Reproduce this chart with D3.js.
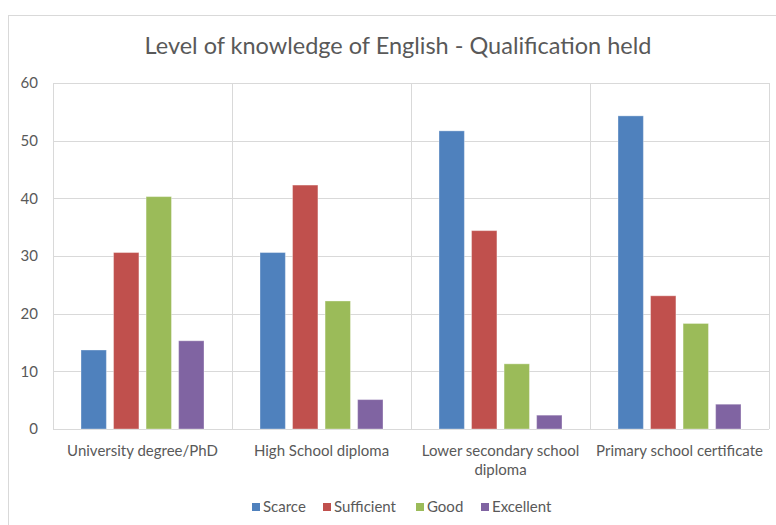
<!DOCTYPE html>
<html>
<head>
<meta charset="utf-8">
<script src="https://cdn.jsdelivr.net/npm/d3@7"></script>
<style>
  body { margin: 0; background: #fff; }
  svg { display: block; font-family: Lato, "Open Sans", sans-serif; }
</style>
</head>
<body>
<svg id="chart" width="776" height="525"></svg>
<script>
// data
var categories = ["University degree/PhD", "High School diploma", "Lower secondary school diploma", "Primary school certificate"];
var series = ["Scarce", "Sufficient", "Good", "Excellent"];
var scarce = [13.7, 30.6, 51.7, 54.3];
var sufficient = [30.6, 42.3, 34.4, 23.1];
var good = [40.3, 22.2, 11.3, 18.3];
var excellent = [15.3, 5.1, 2.4, 4.3];
var colors = ["#4F81BD", "#C0504D", "#9BBB59", "#8064A2"];
var yTicks = [0, 10, 20, 30, 40, 50, 60];

var values = [scarce, sufficient, good, excellent];
var rows = categories.map(function(c, i) {
  return { cat: c, vals: series.map(function(s, j) { return { key: s, value: values[j][i] }; }) };
});

var svg = d3.select("#chart");
var margin = { top: 83, left: 53, right: 7, bottom: 96 };
var width = 776 - margin.left - margin.right,
    height = 525 - margin.top - margin.bottom;

// chart frame (cropped on the right and bottom like the screenshot)
svg.append("rect")
  .attr("x", 8.5).attr("y", 15.5)
  .attr("width", 790).attr("height", 540)
  .attr("fill", "#fff")
  .attr("stroke", "#D9D9D9");

svg.append("text")
  .attr("x", 398).attr("y", 54)
  .attr("text-anchor", "middle")
  .attr("font-size", 23.5)
  .attr("fill", "#595959")
  .text("Level of knowledge of English - Qualification held");

var g = svg.append("g").attr("transform", "translate(" + margin.left + "," + margin.top + ")");

var x0 = d3.scaleBand().domain(categories).range([0, width]).padding(0);
var bw = x0.bandwidth();
var x1 = d3.scaleBand().domain(series).range([28, bw - 28]).paddingInner(0.22);
var y = d3.scaleLinear().domain([0, 60]).range([height, 0]);
var color = d3.scaleOrdinal().domain(series).range(colors);

// horizontal gridlines
g.append("g")
  .selectAll("line")
  .data(yTicks)
  .enter().append("line")
  .attr("x1", 0).attr("x2", width)
  .attr("y1", function(d) { return Math.round(y(d)) + 0.5; })
  .attr("y2", function(d) { return Math.round(y(d)) + 0.5; })
  .attr("stroke", "#D9D9D9");

// vertical category separators
g.append("g")
  .selectAll("line")
  .data(categories.concat(["end"]))
  .enter().append("line")
  .attr("x1", function(d, i) { return Math.round(i * bw) + 0.5; })
  .attr("x2", function(d, i) { return Math.round(i * bw) + 0.5; })
  .attr("y1", 0).attr("y2", height)
  .attr("stroke", "#D9D9D9");

// y axis labels
var yAxis = d3.axisLeft(y).tickValues(yTicks).tickSize(0).tickPadding(15);
g.append("g")
  .call(yAxis)
  .call(function(a) {
    a.select(".domain").remove();
    a.selectAll("text")
      .attr("font-size", 15)
      .attr("fill", "#595959")
      .attr("font-family", "Lato, 'Open Sans', sans-serif");
  });

// bars
var groups = g.append("g")
  .selectAll("g")
  .data(rows)
  .enter().append("g")
  .attr("transform", function(d) { return "translate(" + x0(d.cat) + ",0)"; });

groups.selectAll("rect")
  .data(function(d) { return d.vals; })
  .enter().append("rect")
  .attr("x", function(d) { return x1(d.key); })
  .attr("y", function(d) { return y(d.value); })
  .attr("width", x1.bandwidth())
  .attr("height", function(d) { return height - y(d.value); })
  .attr("fill", function(d) { return color(d.key); })
  .attr("stroke", "rgba(255,255,255,0.35)")
  .attr("stroke-width", 1);

// x axis labels
var xAxis = d3.axisBottom(x0).tickSize(0).tickPadding(16);
g.append("g")
  .attr("transform", "translate(0," + height + ")")
  .call(xAxis)
  .call(function(a) {
    a.select(".domain").remove();
    a.selectAll("text")
      .attr("font-size", 15)
      .attr("fill", "#595959")
      .attr("font-family", "Lato, 'Open Sans', sans-serif")
      .call(wrap, bw - 4);
  });

function wrap(texts, w) {
  texts.each(function() {
    var text = d3.select(this),
        words = text.text().split(/\s+/),
        yy = text.attr("y"),
        dy = parseFloat(text.attr("dy")) || 0,
        line = [],
        lineNo = 0,
        tspan = text.text(null).append("tspan").attr("x", 0).attr("y", yy).attr("dy", dy + "em");
    words.forEach(function(word) {
      line.push(word);
      tspan.text(line.join(" "));
      if (tspan.node().getComputedTextLength() > w && line.length > 1) {
        line.pop();
        tspan.text(line.join(" "));
        line = [word];
        tspan = text.append("tspan").attr("x", 0).attr("y", yy)
          .attr("dy", (++lineNo * 1.3 + dy) + "em").text(word);
      }
    });
  });
}

// legend
var legendX = [252, 323, 416, 481];
var legend = svg.append("g")
  .selectAll("g")
  .data(series)
  .enter().append("g")
  .attr("transform", function(d, i) { return "translate(" + legendX[i] + ",503)"; });

legend.append("rect")
  .attr("width", 8).attr("height", 8)
  .attr("fill", function(d) { return color(d); });

legend.append("text")
  .attr("x", 11).attr("y", 9)
  .attr("font-size", 15)
  .attr("fill", "#595959")
  .text(function(d) { return d; });
</script>
</body>
</html>
